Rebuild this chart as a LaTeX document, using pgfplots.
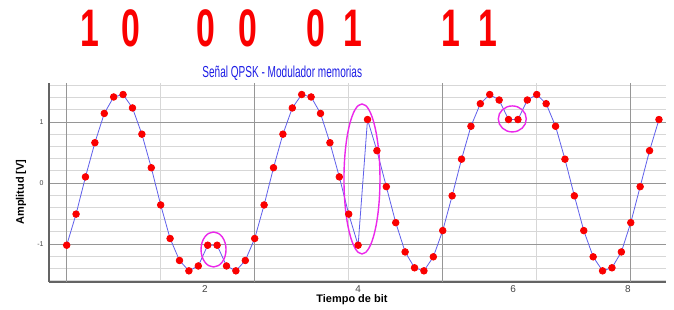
\documentclass[border=0pt]{standalone}
\usepackage{pgfplots}
\pgfplotsset{compat=1.18}
\usepackage{fontspec}
\setmainfont{Liberation Sans}
\usepackage{graphicx}

\definecolor{sigblue}{RGB}{95,95,235}
\definecolor{dotred}{RGB}{250,0,0}
\definecolor{ttlblue}{RGB}{30,30,230}
\definecolor{ellmag}{RGB}{235,40,235}
\definecolor{gmaj}{RGB}{150,150,150}
\definecolor{gmin}{RGB}{215,215,215}
\definecolor{axgray}{RGB}{100,100,100}
\definecolor{lblgray}{RGB}{70,70,70}

\begin{document}
\begin{tikzpicture}[x=1bp,y=1bp]
\fill[white] (0,0) rectangle (674,309);
\foreach \xx/\d in {90/1,131/0,206/0,248/0,316/0,353/1,451/1,488/1} {
  \node[text=dotred, inner sep=0] at (\xx,281) {\scalebox{0.64}[1]{\fontsize{53}{53}\selectfont\bfseries \d}};
}
\begin{axis}[
  at={(49bp,27bp)}, anchor=south west, scale only axis,
  width=617bp, height=199bp,
  xmin=-1.88, xmax=63.75, ymin=-1.623, ymax=1.639,
  axis x line*=bottom, axis y line*=left,
  axis line style={axgray, line width=1.6bp},
  xtick={14.7,31,47.5,59.7}, xticklabels={2,4,6,8},
  ytick={-1,0,1}, yticklabels={-1,0,1},
  major tick length=0pt, minor tick length=0pt,
  ymajorgrids, yminorgrids,
  minor ytick={-1.6,-1.4,-1.2,-0.8,-0.6,-0.4,-0.2,0.2,0.4,0.6,0.8,1.2,1.4,1.6},
  minor xtick={10,30,50}, xminorgrids,
  extra x ticks={0,20,40,60}, extra x tick labels={},
  extra x tick style={xmajorgrids=true},
  major grid style={gmaj, line width=0.8bp},
  minor grid style={gmin, line width=0.8bp},
  x tick label style={font=\fontsize{10}{10}\selectfont, text=lblgray},
  y tick label style={font=\fontsize{7}{7}\selectfont, text=lblgray, xshift=-2bp},
  xlabel={Tiempo de bit},
  xlabel style={at={(axis description cs:0.491,-0.0905)}, anchor=center, font=\bfseries\fontsize{11}{11}\selectfont},
  ylabel={Amplitud [V]},
  ylabel style={at={(axis description cs:-0.0454,0.452)}, anchor=center, font=\bfseries\fontsize{11}{11}\selectfont},
  title={\scalebox{0.63}[1]{Señal QPSK - Modulador memorias}},
  title style={at={(axis description cs:0.378,1.02)}, anchor=center, font=\fontsize{16}{16}\selectfont, text=ttlblue},
]
\addplot[sigblue, line width=0.8bp, mark=*, mark size=3.3bp,
  mark options={solid, draw=dotred, fill=dotred}] coordinates {
(0,-1.02) (1,-0.51) (2,0.10) (3,0.66) (4,1.14) (5,1.41) (6,1.45) (7,1.23)
(8,0.80) (9,0.25) (10,-0.36) (11,-0.91) (12,-1.27) (13,-1.44) (14,-1.36) (15,-1.02)
(16,-1.02) (17,-1.36) (18,-1.44) (19,-1.27) (20,-0.91) (21,-0.36) (22,0.25) (23,0.80)
(24,1.23) (25,1.45) (26,1.41) (27,1.14) (28,0.66) (29,0.10) (30,-0.51) (31,-1.02)
(32,1.04) (33,0.53) (34,-0.06) (35,-0.65) (36,-1.13) (37,-1.39) (38,-1.44) (39,-1.21)
(40,-0.78) (41,-0.21) (42,0.39) (43,0.93) (44,1.30) (45,1.45) (46,1.36) (47,1.04)
(48,1.04) (49,1.36) (50,1.45) (51,1.30) (52,0.93) (53,0.39) (54,-0.21) (55,-0.78)
(56,-1.21) (57,-1.44) (58,-1.39) (59,-1.13) (60,-0.65) (61,-0.06) (62,0.53) (63,1.04)
};
\draw[ellmag, line width=1.4bp] (axis cs:15.62,-1.09) ellipse [x radius=12.5bp, y radius=17.5bp];
\draw[ellmag, line width=1.4bp] (axis cs:31.41,0.066) ellipse [x radius=18bp, y radius=75bp];
\draw[ellmag, line width=1.4bp] (axis cs:47.4,1.05) ellipse [x radius=14bp, y radius=13bp];
\end{axis}
\pgfresetboundingbox
\useasboundingbox (0,0) rectangle (674,309);
\end{tikzpicture}
\end{document}
